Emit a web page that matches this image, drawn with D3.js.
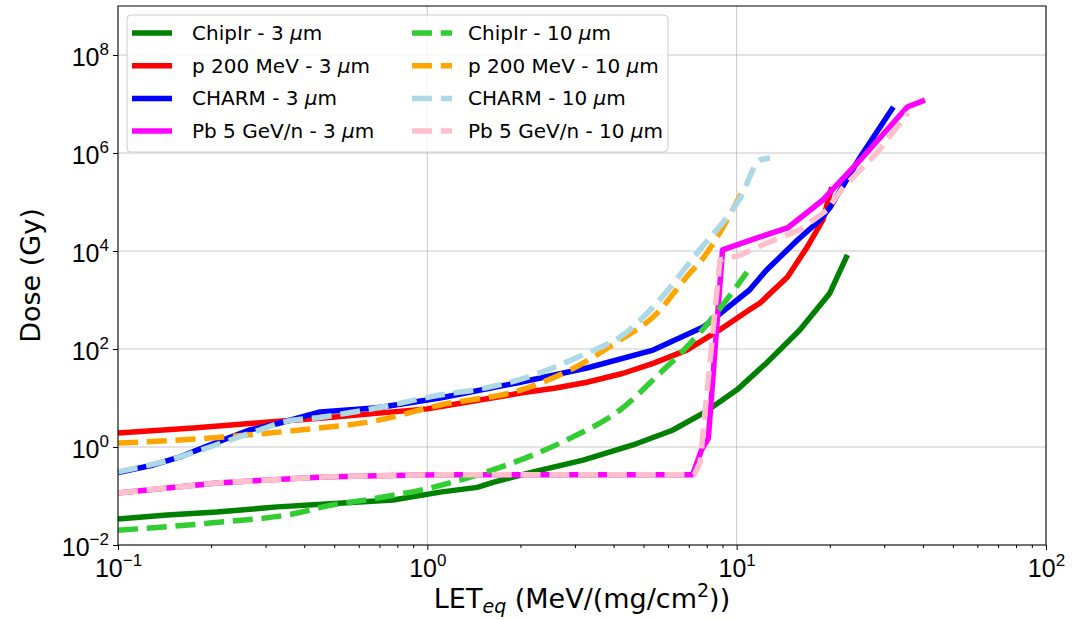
<!DOCTYPE html>
<html>
<head>
<meta charset="utf-8">
<script src="https://cdn.jsdelivr.net/npm/d3@7"></script>
<style>
  html, body { margin: 0; padding: 0; background: #fff; }
  svg { display: block; font-family: "DejaVu Sans", sans-serif; }
</style>
</head>
<body>
<svg id="chart" width="1073" height="620"></svg>
<script>
// ---------------- DATA ----------------
const xTickValues = [0.1, 1, 10, 100];
const yTickValues = [1e-2, 1, 1e2, 1e4, 1e6, 1e8];

const chipIr3X = [0.1, 0.144, 0.209, 0.327, 0.533, 0.774, 1.10, 1.45, 1.63, 2.2, 3.19, 4.62, 6.2, 7.8, 10.0, 12.5, 16.0, 20.0, 22.8];
const chipIr3Y = [0.034, 0.041, 0.047, 0.060, 0.072, 0.083, 0.12, 0.15, 0.19, 0.31, 0.54, 1.10, 2.2, 4.9, 14.5, 52, 245, 1380, 8300];

const p200_3X = [0.1, 0.175, 0.3, 0.46, 1.0, 2.0, 2.6, 3.28, 4.3, 5.37, 6.9, 8.8, 11.0, 11.9, 14.6, 16.9, 19.0, 20.3];
const p200_3Y = [1.93, 2.45, 3.2, 3.9, 6.0, 12.6, 16, 21, 32, 51, 95, 245, 630, 870, 2950, 12000, 43000, 2.0e5];

const charm3X = [0.1, 0.13, 0.159, 0.198, 0.267, 0.334, 0.45, 0.69, 1.10, 2.0, 3.28, 5.37, 7.8, 11.0, 12.5, 15.7, 18.6, 20.0, 25.1, 32.1];
const charm3Y = [0.30, 0.43, 0.63, 1.10, 2.23, 3.09, 5.2, 6.3, 10, 21, 41, 95, 280, 1600, 4100, 16600, 43000, 76000, 8.3e5, 8.7e6];

const pb3X = [0.1, 0.209, 0.46, 0.69, 1.10, 7.2, 7.7, 8.1, 9.0, 11.9, 14.6, 19.0, 25.1, 35.6, 40.6];
const pb3Y = [0.115, 0.185, 0.245, 0.26, 0.27, 0.27, 0.87, 1.5, 10500, 19400, 29500, 1.1e5, 7.2e5, 8.7e6, 1.2e7];

const chipIr10X = [0.1, 0.198, 0.38, 0.46, 0.69, 1.04, 1.45, 2.2, 2.89, 4.2, 5.65, 6.9, 8.4, 10.8];
const chipIr10Y = [0.020, 0.028, 0.045, 0.060, 0.091, 0.15, 0.27, 0.69, 1.5, 5.7, 32, 110, 450, 3700];

const p200_10X = [0.1, 0.198, 0.38, 0.69, 1.10, 2.0, 2.89, 4.2, 5.37, 7.06, 7.8, 8.65, 10.5];
const p200_10Y = [1.20, 1.52, 2.2, 3.5, 7.2, 14.5, 37, 153, 450, 3550, 7200, 19400, 1.75e5];

const charm10X = [0.1, 0.155, 0.198, 0.273, 0.341, 0.46, 0.69, 1.10, 1.5, 2.0, 3.28, 4.2, 5.37, 7.45, 10.3, 11.9, 12.8];
const charm10Y = [0.31, 0.60, 1.0, 2.0, 3.2, 4.1, 6.3, 11.5, 15.5, 24, 83, 175, 720, 9100, 1.26e5, 7.2e5, 7.9e5];

const pb10X = [0.1, 0.209, 0.46, 0.69, 1.10, 7.3, 7.62, 8.83, 10.3, 12.5, 16.0, 19.6, 22.1, 28.4, 35.8];
const pb10Y = [0.115, 0.185, 0.245, 0.26, 0.27, 0.27, 0.49, 6600, 8300, 14500, 27000, 69000, 2.0e5, 1e6, 6.6e6];

const seriesLabels = ["ChipIr - 3 ", "p 200 MeV - 3 ", "CHARM - 3 ", "Pb 5 GeV/n - 3 ",
                      "ChipIr - 10 ", "p 200 MeV - 10 ", "CHARM - 10 ", "Pb 5 GeV/n - 10 "];
const seriesColors = ["#008000", "#ff0000", "#0000ff", "#ff00ff",
                      "#32cd32", "#ffa500", "#add8e6", "#ffc0cb"];
const seriesXs = [chipIr3X, p200_3X, charm3X, pb3X, chipIr10X, p200_10X, charm10X, pb10X];
const seriesYs = [chipIr3Y, p200_3Y, charm3Y, pb3Y, chipIr10Y, p200_10Y, charm10Y, pb10Y];
const seriesDashed = [false, false, false, false, true, true, true, true];
const seriesSmooth = [false, false, false, false, true, true, true, false];

// ---------------- LAYOUT ----------------
const L = 118, R = 1046, T = 6, B = 545;
const LW = 5.5, DASH = "20,8.8";

const svg = d3.select("#chart");
const x = d3.scaleLog().domain([0.1, 100]).range([L, R]);
const y = d3.scaleLog().domain([1e-2, 1e9]).range([B, T]);

// grid
const grid = svg.append("g");
grid.selectAll("line.gx").data(xTickValues).enter().append("line")
  .attr("x1", d => x(d)).attr("x2", d => x(d)).attr("y1", T).attr("y2", B)
  .attr("stroke", "#b0b0b0").attr("stroke-opacity", 0.7).attr("stroke-width", 1);
grid.selectAll("line.gy").data(yTickValues).enter().append("line")
  .attr("x1", L).attr("x2", R).attr("y1", d => y(d)).attr("y2", d => y(d))
  .attr("stroke", "#b0b0b0").attr("stroke-opacity", 0.7).attr("stroke-width", 1);

// lines
seriesLabels.forEach((lab, i) => {
  const pts = seriesXs[i].map((v, j) => [v, seriesYs[i][j]]);
  const gen = d3.line().x(d => x(d[0])).y(d => y(d[1]))
    .curve(seriesSmooth[i] ? d3.curveMonotoneX : d3.curveLinear);
  svg.append("path").datum(pts)
    .attr("d", gen)
    .attr("fill", "none")
    .attr("stroke", seriesColors[i])
    .attr("stroke-width", LW)
    .attr("stroke-linejoin", "round")
    .attr("stroke-dasharray", seriesDashed[i] ? DASH : null);
});

// axes
const minorX = [];
[0.1, 1, 10].forEach(b => { for (let k = 2; k <= 9; k++) minorX.push(b * k); });

const xAxisMinor = d3.axisBottom(x).tickValues(minorX).tickSize(3).tickFormat("");
const xAxis = d3.axisBottom(x).tickValues(xTickValues).tickSize(5).tickFormat("");
const yAxis = d3.axisLeft(y).tickValues(yTickValues).tickSize(5).tickFormat("");

const gxm = svg.append("g").attr("transform", `translate(0,${B})`).call(xAxisMinor);
const gx = svg.append("g").attr("transform", `translate(0,${B})`).call(xAxis);
const gy = svg.append("g").attr("transform", `translate(${L},0)`).call(yAxis);
[gxm, gx, gy].forEach(g => {
  g.select(".domain").remove();
  g.selectAll(".tick line").attr("stroke", "#000").attr("stroke-width", 1);
});

function expStr(v) {
  const e = Math.round(Math.log10(v));
  return (e < 0 ? "\u2212" : "") + Math.abs(e);
}
gx.selectAll(".tick").append("text")
  .attr("y", 32).attr("text-anchor", "middle").attr("fill", "#000")
  .style("font-size", "25px")
  .each(function(d) {
    const t = d3.select(this);
    t.append("tspan").text("10");
    t.append("tspan").attr("dy", -11).style("font-size", "17px").text(expStr(d));
  });
gy.selectAll(".tick").append("text")
  .attr("x", -9).attr("y", 10).attr("text-anchor", "end").attr("fill", "#000")
  .style("font-size", "25px")
  .each(function(d) {
    const t = d3.select(this);
    t.append("tspan").text("10");
    t.append("tspan").attr("dy", -11).style("font-size", "17px").text(expStr(d));
  });

// frame
svg.append("rect").attr("x", L).attr("y", T).attr("width", R - L).attr("height", B - T)
  .attr("fill", "none").attr("stroke", "#000").attr("stroke-width", 1);

// axis labels
const xl = svg.append("text").attr("x", (L + R) / 2).attr("y", 608)
  .attr("text-anchor", "middle").style("font-size", "27px").attr("fill", "#000");
xl.append("tspan").text("LET");
xl.append("tspan").attr("dy", 5).style("font-size", "19px").style("font-style", "italic").text("eq");
xl.append("tspan").attr("dy", -5).text(" (MeV/(mg/cm");
xl.append("tspan").attr("dy", -11).style("font-size", "19px").text("2");
xl.append("tspan").attr("dy", 11).text("))");

svg.append("text")
  .attr("transform", `translate(40,${(T + B) / 2}) rotate(-90)`)
  .attr("text-anchor", "middle").style("font-size", "27px").attr("fill", "#000")
  .text("Dose (Gy)");

// legend
const leg = svg.append("g");
leg.append("rect").attr("x", 127).attr("y", 15).attr("width", 541).attr("height", 137)
  .attr("rx", 4).attr("fill", "#fff").attr("fill-opacity", 0.8)
  .attr("stroke", "#cccccc").attr("stroke-width", 1);
seriesLabels.forEach((lab, i) => {
  const col = Math.floor(i / 4), row = i % 4;
  const hx = col === 0 ? 132 : 412;
  const tx = col === 0 ? 192 : 468;
  const cy = 33 + row * 32.7;
  leg.append("line").attr("x1", hx).attr("x2", hx + 40).attr("y1", cy).attr("y2", cy)
    .attr("stroke", seriesColors[i]).attr("stroke-width", LW)
    .attr("stroke-dasharray", seriesDashed[i] ? DASH : null);
  const t = leg.append("text").attr("x", tx).attr("y", cy + 7)
    .style("font-size", "20px").attr("fill", "#000");
  t.append("tspan").text(lab);
  t.append("tspan").style("font-style", "italic").text("\u03bc");
  t.append("tspan").text("m");
});
</script>
</body>
</html>
